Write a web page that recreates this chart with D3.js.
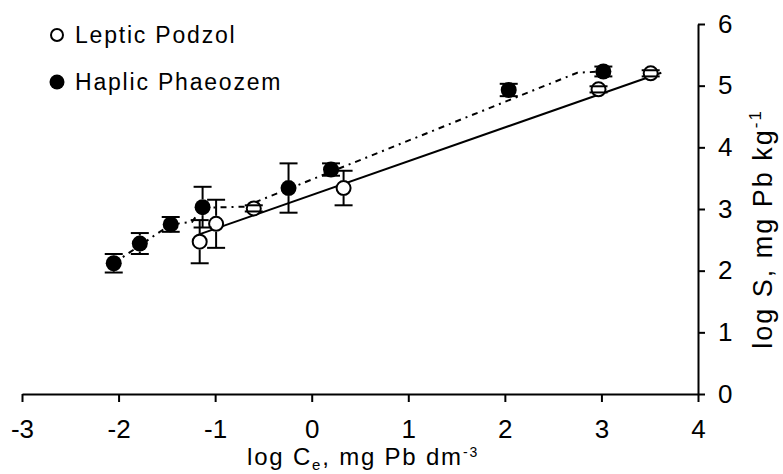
<!DOCTYPE html>
<html>
<head>
<meta charset="utf-8">
<script src="https://cdn.jsdelivr.net/npm/d3@7"></script>
<style>
  body { margin: 0; background: #fff; }
  svg { display: block; font-family: "Liberation Sans", Arial, sans-serif; }
</style>
</head>
<body>
<div id="chart"></div>
<script>
const width = 783;
const height = 474;

// Leptic Podzol (open circles)
const podzolX = [-1.16, -0.99, -0.60, 0.33, 2.97, 3.51];
const podzolY = [2.47, 2.76, 3.01, 3.34, 4.94, 5.20];
const podzolErr = [0.35, 0.39, 0.05, 0.28, 0.05, 0.05];

// Haplic Phaeozem (filled circles)
const phaeozemX = [-2.05, -1.78, -1.46, -1.13, -0.24, 0.20, 2.04, 3.02];
const phaeozemY = [2.12, 2.44, 2.75, 3.03, 3.34, 3.64, 4.93, 5.23];
const phaeozemErr = [0.15, 0.17, 0.12, 0.33, 0.40, 0.10, 0.10, 0.08];

// fitted lines
const podzolFitX = [-1.18, 3.62];
const podzolFitY = [2.58, 5.21];
const phaeozemFitX = [-2.05, -1.46, -1.24, -1.13, -0.64, -0.60, 2.75, 3.02];
const phaeozemFitY = [2.12, 2.75, 2.79, 3.02, 3.04, 3.10, 5.21, 5.23];

const xTicks = [-3, -2, -1, 0, 1, 2, 3, 4];
const yTicks = [0, 1, 2, 3, 4, 5, 6];
const seriesNames = ["Leptic Podzol", "Haplic Phaeozem"];

const x = d3.scaleLinear().domain([-3, 4]).range([22, 698]);
const y = d3.scaleLinear().domain([0, 6]).range([394, 24]);

const svg = d3.select("#chart")
	.append("svg")
	.attr("width", width)
	.attr("height", height);

// x axis
const xAxis = svg.append("g")
	.attr("transform", "translate(0," + y(0) + ")")
	.call(d3.axisBottom(x).tickValues(xTicks).tickSize(8).tickSizeOuter(0).tickFormat(d => String(d)));
xAxis.select(".domain").attr("stroke-width", 2);
xAxis.selectAll(".tick line").attr("stroke-width", 2);
xAxis.selectAll("text").attr("font-size", 26).attr("y", 26).attr("fill", "#000");

// y axis on the right
const yAxis = svg.append("g")
	.attr("transform", "translate(" + x(4) + ",0)")
	.call(d3.axisRight(y).tickValues(yTicks).tickSize(7).tickSizeOuter(0).tickFormat(d => String(d)));
yAxis.select(".domain").attr("stroke-width", 2);
yAxis.selectAll(".tick line").attr("stroke-width", 2);
yAxis.selectAll("text").attr("font-size", 26).attr("x", 20).attr("fill", "#000");

// axis titles
const xt = svg.append("text")
	.attr("x", 363).attr("y", 465)
	.attr("text-anchor", "middle")
	.attr("font-size", 24)
	.attr("letter-spacing", 1.8);
xt.append("tspan").text("log C");
xt.append("tspan").attr("font-size", 15).attr("dy", 5).text("e");
xt.append("tspan").attr("dy", -5).text(", mg Pb dm");
xt.append("tspan").attr("font-size", 14).attr("dy", -8).text("-3");

const yt = svg.append("text")
	.attr("transform", "translate(772,229) rotate(-90)")
	.attr("text-anchor", "middle")
	.attr("font-size", 27)
	.attr("letter-spacing", 2);
yt.append("tspan").text("log S, mg Pb kg");
yt.append("tspan").attr("font-size", 17).attr("dy", -11).text("-1");

// lines
const line = d3.line().x(d => x(d[0])).y(d => y(d[1]));
svg.append("path")
	.datum(podzolFitX.map((v, i) => [v, podzolFitY[i]]))
	.attr("d", line)
	.attr("fill", "none").attr("stroke", "#000").attr("stroke-width", 2);
svg.append("path")
	.datum(phaeozemFitX.map((v, i) => [v, phaeozemFitY[i]]))
	.attr("d", line)
	.attr("fill", "none").attr("stroke", "#000").attr("stroke-width", 2)
	.attr("stroke-dasharray", "6,5,2,5");

const r = 8;
const capW = 9;

function drawSeries(xs, ys, errs, filled) {
	const pts = xs.map((v, i) => ({ x: v, y: ys[i], e: errs[i] }));
	const g = svg.append("g");
	g.selectAll("circle")
		.data(pts)
		.enter()
		.append("circle")
		.attr("cx", d => x(d.x))
		.attr("cy", d => y(d.y))
		.attr("r", filled ? r : r - 1)
		.attr("fill", filled ? "#000" : "#fff")
		.attr("stroke", "#000")
		.attr("stroke-width", filled ? 0 : 2);
	// error bars
	pts.forEach(d => {
		const cx = x(d.x), cy = y(d.y);
		const top = y(d.y + d.e), bot = y(d.y - d.e);
		if (cy - top > r) {
			g.append("line").attr("x1", cx).attr("x2", cx).attr("y1", top).attr("y2", cy - r)
				.attr("stroke", "#000").attr("stroke-width", 2);
			g.append("line").attr("x1", cx).attr("x2", cx).attr("y1", cy + r).attr("y2", bot)
				.attr("stroke", "#000").attr("stroke-width", 2);
		}
		[top, bot].forEach(yy => {
			g.append("line").attr("x1", cx - capW).attr("x2", cx + capW).attr("y1", yy).attr("y2", yy)
				.attr("stroke", "#000").attr("stroke-width", 2);
		});
	});
}

drawSeries(podzolX, podzolY, podzolErr, false);
drawSeries(phaeozemX, phaeozemY, phaeozemErr, true);

// legend
const legend = svg.append("g");
seriesNames.forEach((name, i) => {
	const ly = 35 + i * 47;
	legend.append("circle")
		.attr("cx", 57).attr("cy", ly)
		.attr("r", i === 0 ? 6 : 7.5)
		.attr("fill", i === 0 ? "#fff" : "#000")
		.attr("stroke", "#000").attr("stroke-width", i === 0 ? 2 : 0);
	legend.append("text")
		.attr("x", 75).attr("y", ly + 8)
		.attr("font-size", 23)
		.attr("letter-spacing", 1.8)
		.text(name);
});
</script>
</body>
</html>
